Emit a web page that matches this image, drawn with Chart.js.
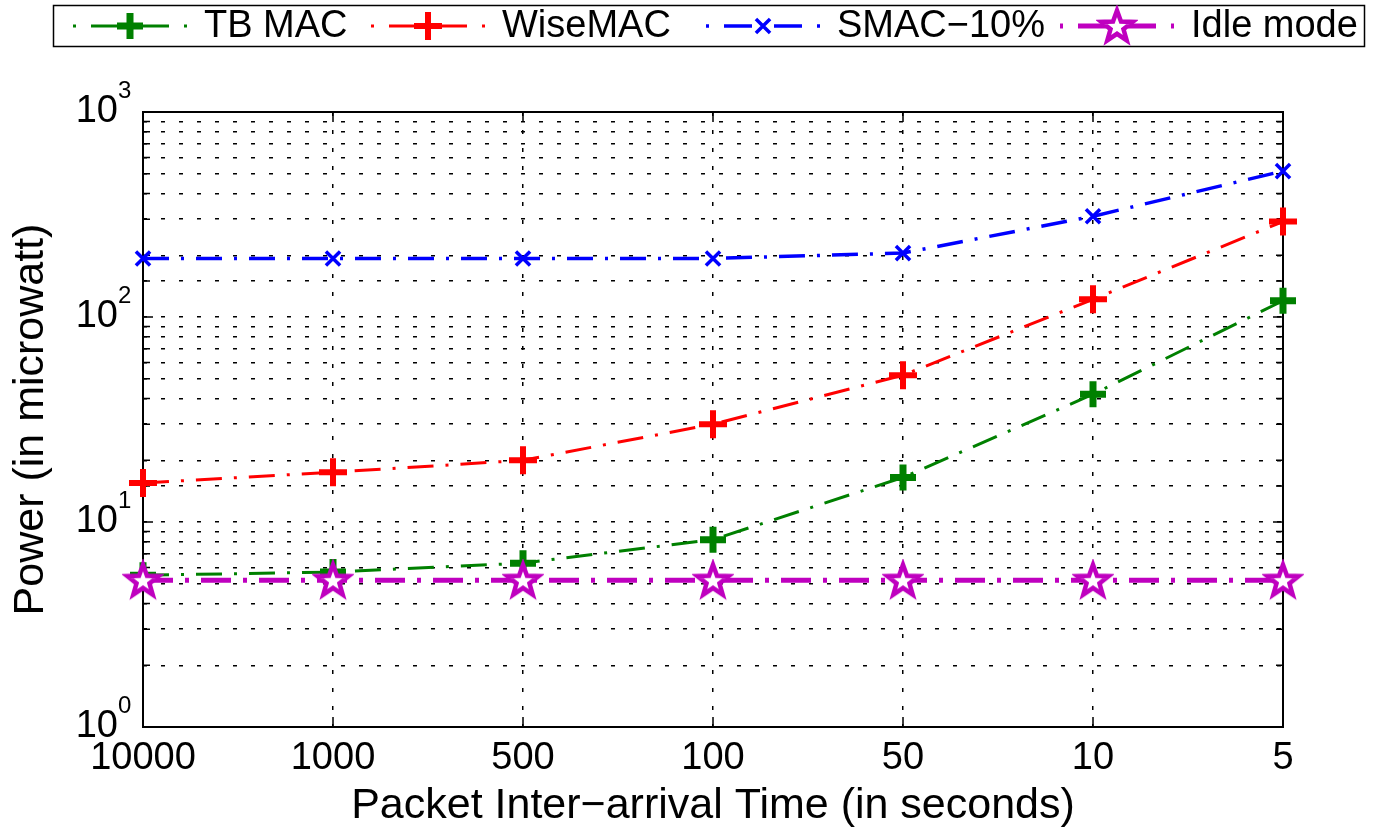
<!DOCTYPE html>
<html>
<head>
<meta charset="utf-8">
<script src="https://cdn.jsdelivr.net/npm/chart.js@4.4.1/dist/chart.umd.min.js"></script>
<style>
  html, body { margin: 0; padding: 0; background: #fff; }
</style>
</head>
<body>
<canvas id="powerChart" width="1375" height="834"></canvas>
<script>
// data
const intervals = ['10000', '1000', '500', '100', '50', '10', '5'];
const tbMac = [5.5, 5.7, 6.3, 8.2, 16.5, 42, 120];
const wiseMac = [15.5, 17.5, 20, 30, 52, 122, 292];
const smac10 = [193, 193, 193, 193, 205, 310, 515];
const idleMode = [5.2, 5.2, 5.2, 5.2, 5.2, 5.2, 5.2];
const seriesNames = ['TB MAC', 'WiseMAC', 'SMAC\u221210%', 'Idle mode'];
const yRange = [1, 1000];

const FONT = '"Liberation Sans", Arial, sans-serif';

// pentagram marker (matlab style)
function makeStar(color) {
  const c = document.createElement('canvas');
  c.width = 42; c.height = 42;
  const g = c.getContext('2d');
  g.strokeStyle = color;
  g.fillStyle = '#fff';
  g.lineWidth = 4.5;
  g.lineJoin = 'miter';
  g.beginPath();
  for (let i = 0; i < 10; i++) {
    const r = i % 2 === 0 ? 16.5 : 6.8;
    const a = -Math.PI / 2 + i * Math.PI / 5;
    const x = 21 + r * Math.cos(a), y = 22 + r * Math.sin(a);
    if (i === 0) g.moveTo(x, y); else g.lineTo(x, y);
  }
  g.closePath();
  g.fill();
  g.stroke();
  return c;
}
const starMarker = makeStar('#bf00bf');

// box + inner ticks, y labels as 10^n
const framePlugin = {
  id: 'frame',
  beforeDatasetsDraw(chart) {
    const { ctx, chartArea: a, scales } = chart;
    ctx.save();
    ctx.strokeStyle = '#000';
    ctx.lineWidth = 2;
    ctx.setLineDash([]);
    ctx.strokeRect(a.left, a.top, a.right - a.left, a.bottom - a.top);
    ctx.lineWidth = 1.5;
    ctx.beginPath();
    scales.y.ticks.forEach(t => {
      const py = scales.y.getPixelForValue(t.value);
      const len = t.major ? 10 : 7;
      ctx.moveTo(a.left, py); ctx.lineTo(a.left + len, py);
      ctx.moveTo(a.right - len, py); ctx.lineTo(a.right, py);
    });
    scales.x.ticks.forEach((t, i) => {
      const px = scales.x.getPixelForTick(i);
      ctx.moveTo(px, a.bottom); ctx.lineTo(px, a.bottom - 10);
      ctx.moveTo(px, a.top); ctx.lineTo(px, a.top + 10);
    });
    ctx.stroke();
    ctx.restore();
  },
  afterDraw(chart) {
    const { ctx, scales } = chart;
    ctx.save();
    ctx.fillStyle = '#000';
    scales.y.ticks.forEach(t => {
      const e = Math.log10(t.value);
      if (Math.abs(e - Math.round(e)) > 1e-9) return;
      const py = scales.y.getPixelForValue(t.value);
      ctx.font = '38px ' + FONT;
      ctx.textAlign = 'right';
      ctx.textBaseline = 'alphabetic';
      ctx.fillText('10', 118, py + 10);
      ctx.font = '24px ' + FONT;
      ctx.textAlign = 'left';
      ctx.fillText(String(Math.round(e)), 118, py - 14);
    });
    ctx.restore();
  }
};

// legend in a box across the top
const legendPlugin = {
  id: 'boxLegend',
  afterDraw(chart) {
    const ctx = chart.ctx;
    const starts = [73, 371, 706, 1060];
    const y = 26;
    ctx.save();
    ctx.strokeStyle = '#000';
    ctx.lineWidth = 1.5;
    ctx.strokeRect(53.5, 5.5, 1311, 41);
    chart.data.datasets.forEach((ds, i) => {
      const s = starts[i];
      ctx.strokeStyle = ds.borderColor;
      ctx.fillStyle = ds.borderColor;
      ctx.lineWidth = ds.borderWidth;
      ctx.lineCap = 'butt';
      ctx.setLineDash([]);
      ctx.beginPath();
      [[s, s + 3], [s + 18, s + 46], [s + 68, s + 96], [s + 111, s + 114]].forEach(seg => {
        ctx.moveTo(seg[0], y); ctx.lineTo(seg[1], y);
      });
      ctx.stroke();
      ctx.lineWidth = ds.pointBorderWidth;
      Chart.helpers.drawPoint(ctx, {
        pointStyle: ds.pointStyle, radius: ds.pointRadius,
        borderWidth: ds.pointBorderWidth, rotation: 0
      }, s + 57, y);
      ctx.fillStyle = '#000';
      ctx.font = '38px ' + FONT;
      ctx.textAlign = 'left';
      ctx.textBaseline = 'middle';
      ctx.fillText(ds.label, s + 131, y + 1);
    });
    ctx.restore();
  }
};

const dashDot = [26, 12, 3, 12];

new Chart(document.getElementById('powerChart'), {
  type: 'line',
  data: {
    labels: intervals,
    datasets: [
      {
        label: seriesNames[0], data: tbMac,
        borderColor: '#008000', backgroundColor: '#008000',
        borderWidth: 3, borderDash: dashDot,
        pointStyle: 'cross', pointRadius: 13, pointBorderWidth: 7
      },
      {
        label: seriesNames[1], data: wiseMac,
        borderColor: '#ff0000', backgroundColor: '#ff0000',
        borderWidth: 3, borderDash: dashDot,
        pointStyle: 'cross', pointRadius: 14, pointBorderWidth: 6
      },
      {
        label: seriesNames[2], data: smac10,
        borderColor: '#0000ff', backgroundColor: '#0000ff',
        borderWidth: 3.5, borderDash: dashDot,
        pointStyle: 'crossRot', pointRadius: 10, pointBorderWidth: 3.5
      },
      {
        label: seriesNames[3], data: idleMode,
        borderColor: '#bf00bf', backgroundColor: '#bf00bf',
        borderWidth: 5, borderDash: [30, 12, 4, 12],
        pointStyle: starMarker, pointRadius: 17, pointBorderWidth: 3,
        order: -1
      }
    ]
  },
  options: {
    responsive: false,
    animation: false,
    events: [],
    datasets: { line: { clip: false, tension: 0, fill: false } },
    layout: { padding: { top: 112, right: 92, bottom: 0, left: 0 } },
    plugins: {
      legend: { display: false },
      tooltip: { enabled: false }
    },
    scales: {
      x: {
        type: 'category',
        offset: false,
        grid: { color: '#000', lineWidth: 1.5, drawTicks: false, offset: false },
        border: { display: false, dash: [4, 14] },
        ticks: {
          color: '#000', padding: 9, maxRotation: 0, autoSkip: false,
          font: { family: FONT, size: 38 }
        },
        title: {
          display: true, text: 'Packet Inter\u2212arrival Time (in seconds)',
          color: '#000', font: { family: FONT, size: 43 }, padding: { top: 0, bottom: 2 }
        },
        afterFit: s => { s.height = 107; }
      },
      y: {
        type: 'logarithmic',
        min: yRange[0], max: yRange[1],
        grid: { color: '#000', lineWidth: 1.5, drawTicks: false },
        border: { display: false, dash: [4, 14] },
        ticks: { display: false },
        title: {
          display: true, text: 'Power (in microwatt)',
          color: '#000', font: { family: FONT, size: 43 }, padding: { top: 5, bottom: 0 }
        },
        afterFit: s => { s.width = 143; }
      }
    }
  },
  plugins: [framePlugin, legendPlugin]
});
</script>
</body>
</html>
